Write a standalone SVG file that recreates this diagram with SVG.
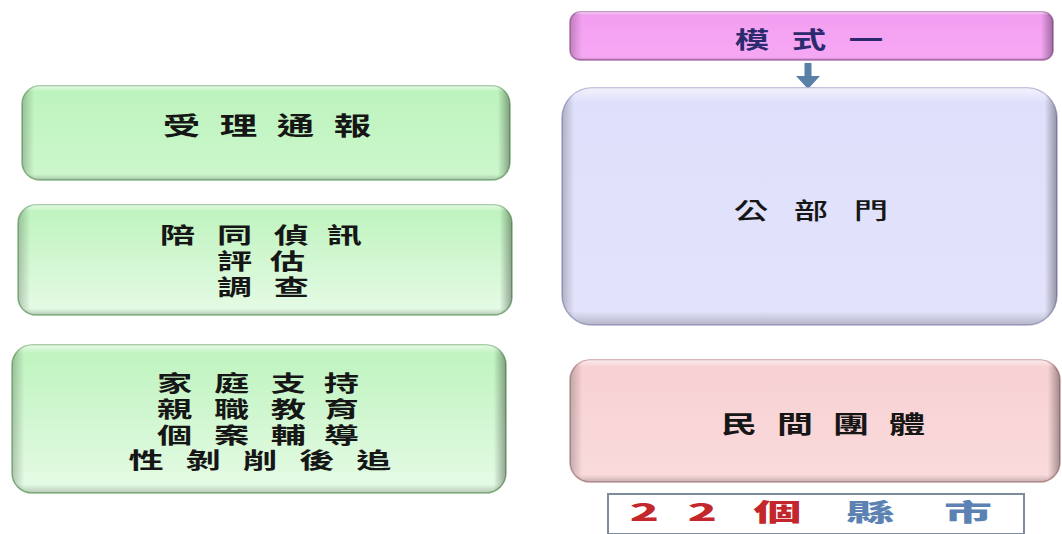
<svg xmlns="http://www.w3.org/2000/svg" width="1062" height="534" viewBox="0 0 1062 534">
  <defs>
    <linearGradient id="gGreen" x1="0" y1="0" x2="0" y2="1">
      <stop offset="0" stop-color="#bdf3bd"/>
      <stop offset="1" stop-color="#e6fbe6"/>
    </linearGradient>
    <linearGradient id="gGreen1" x1="0" y1="0" x2="0" y2="1">
      <stop offset="0" stop-color="#bcf3bc"/>
      <stop offset="1" stop-color="#cdf7cd"/>
    </linearGradient>
    <linearGradient id="gLav" x1="0" y1="0" x2="0" y2="1">
      <stop offset="0" stop-color="#dedffa"/>
      <stop offset="1" stop-color="#e3e3fb"/>
    </linearGradient>
    <linearGradient id="gRose" x1="0" y1="0" x2="0" y2="1">
      <stop offset="0" stop-color="#f7d0d2"/>
      <stop offset="1" stop-color="#fadbdc"/>
    </linearGradient>
    <linearGradient id="gMag" x1="0" y1="0" x2="0" y2="1">
      <stop offset="0" stop-color="#f39ef1"/>
      <stop offset="1" stop-color="#f6a8f4"/>
    </linearGradient>
    <linearGradient id="edge" x1="0" y1="0" x2="1" y2="0">
      <stop offset="0" stop-color="#000" stop-opacity="0.22"/>
      <stop offset="0.025" stop-color="#000" stop-opacity="0"/>
      <stop offset="0.975" stop-color="#000" stop-opacity="0"/>
      <stop offset="1" stop-color="#000" stop-opacity="0.35"/>
    </linearGradient>
    <linearGradient id="edgeV" x1="0" y1="0" x2="0" y2="1">
      <stop offset="0" stop-color="#fff" stop-opacity="0.6"/>
      <stop offset="0.06" stop-color="#fff" stop-opacity="0"/>
      <stop offset="0.94" stop-color="#000" stop-opacity="0"/>
      <stop offset="1" stop-color="#000" stop-opacity="0.2"/>
    </linearGradient>
  </defs>
  <style>
    .lbl { font-family: "Noto Sans CJK TC", "Noto Sans CJK SC", sans-serif; font-weight: 700; fill: #161616; text-anchor: middle; }
    .thin { font-weight: 500; }
  </style>

  <g id="connectors">
    <polygon points="804.5,63 811.5,63 811.5,76 820,76 808,89 796,76 804.5,76" fill="#5b80a8"/>
  </g>

  <g id="node-model">
    <rect x="570" y="12" width="483" height="48" rx="10" fill="url(#gMag)" stroke="#b878b6" stroke-width="1.5"/>
    <rect x="570" y="12" width="483" height="48" rx="10" fill="url(#edge)"/>
    <rect x="570" y="12" width="483" height="48" rx="10" fill="url(#edgeV)"/>
    <text class="lbl" style="fill:#2b2a6e" font-size="23" transform="matrix(1.5,0,0,1,809,48)" x="-38 0 38" y="0">模式一</text>
  </g>

  <g id="node-accept">
    <rect x="22" y="86" width="488" height="94" rx="18" fill="url(#gGreen1)" stroke="#8cbf8c" stroke-width="1.5"/>
    <rect x="22" y="86" width="488" height="94" rx="18" fill="url(#edge)"/>
    <rect x="22" y="86" width="488" height="94" rx="18" fill="url(#edgeV)"/>
    <text class="lbl" font-size="25" transform="matrix(1.5,0,0,1,267,135)" x="-57 -19 19 57" y="0">受理通報</text>
  </g>

  <g id="node-investigate">
    <rect x="18" y="205" width="494" height="110" rx="18" fill="url(#gGreen)" stroke="#8cbf8c" stroke-width="1.5"/>
    <rect x="18" y="205" width="494" height="110" rx="18" fill="url(#edge)"/>
    <rect x="18" y="205" width="494" height="110" rx="18" fill="url(#edgeV)"/>
    <text class="lbl" font-size="22" transform="matrix(1.6,0,0,1,263,0)">
      <tspan x="-53.4 -17.8 17.8 53.4" y="243">陪同偵訊</tspan>
      <tspan x="-17.8 17.8" y="269">評估</tspan>
      <tspan x="-17.8 17.8" y="295">調查</tspan>
    </text>
  </g>

  <g id="node-support">
    <rect x="12" y="345" width="494" height="148" rx="20" fill="url(#gGreen)" stroke="#8cbf8c" stroke-width="1.5"/>
    <rect x="12" y="345" width="494" height="148" rx="20" fill="url(#edge)"/>
    <rect x="12" y="345" width="494" height="148" rx="20" fill="url(#edgeV)"/>
    <text class="lbl" font-size="22" transform="matrix(1.6,0,0,1,260,0)">
      <tspan x="-53.4 -17.8 17.8 53.4" y="391">家庭支持</tspan>
      <tspan x="-53.4 -17.8 17.8 53.4" y="417">親職教育</tspan>
      <tspan x="-53.4 -17.8 17.8 53.4" y="443">個案輔導</tspan>
      <tspan x="-71.2 -35.6 0 35.6 71.2" y="468">性剝削後追</tspan>
    </text>
  </g>

  <g id="node-public">
    <rect x="562" y="88" width="495" height="237" rx="30" fill="url(#gLav)" stroke="#aeb0d2" stroke-width="1.5"/>
    <rect x="562" y="88" width="495" height="237" rx="30" fill="url(#edge)"/>
    <rect x="562" y="88" width="495" height="237" rx="30" fill="url(#edgeV)"/>
    <text class="lbl thin" font-size="23" transform="matrix(1.5,0,0,1,811,219)" x="-40 0 40" y="0">公部門</text>
  </g>

  <g id="node-ngo">
    <rect x="570" y="360" width="490" height="122" rx="20" fill="url(#gRose)" stroke="#c89ea1" stroke-width="1.5"/>
    <rect x="570" y="360" width="490" height="122" rx="20" fill="url(#edge)"/>
    <rect x="570" y="360" width="490" height="122" rx="20" fill="url(#edgeV)"/>
    <text class="lbl" font-size="24" transform="matrix(1.5,0,0,1,823,433)" x="-56 -18.7 18.7 56" y="0">民間團體</text>
  </g>

  <g id="node-counties">
    <rect x="608" y="494" width="416" height="40" fill="#ffffff" stroke="#7d8b9c" stroke-width="2"/>
    <text font-family="Noto Sans CJK TC, sans-serif" font-weight="900" font-size="24" text-anchor="middle" transform="matrix(2,0,0,1,0,521)">
      <tspan x="325" fill="#c3262b">2</tspan>
      <tspan x="354" fill="#c3262b">2</tspan>
      <tspan x="391.5" fill="#c3262b">個</tspan>
      <tspan x="438" fill="#5b82b2">縣</tspan>
      <tspan x="484" fill="#5b82b2">市</tspan>
    </text>
  </g>
</svg>
